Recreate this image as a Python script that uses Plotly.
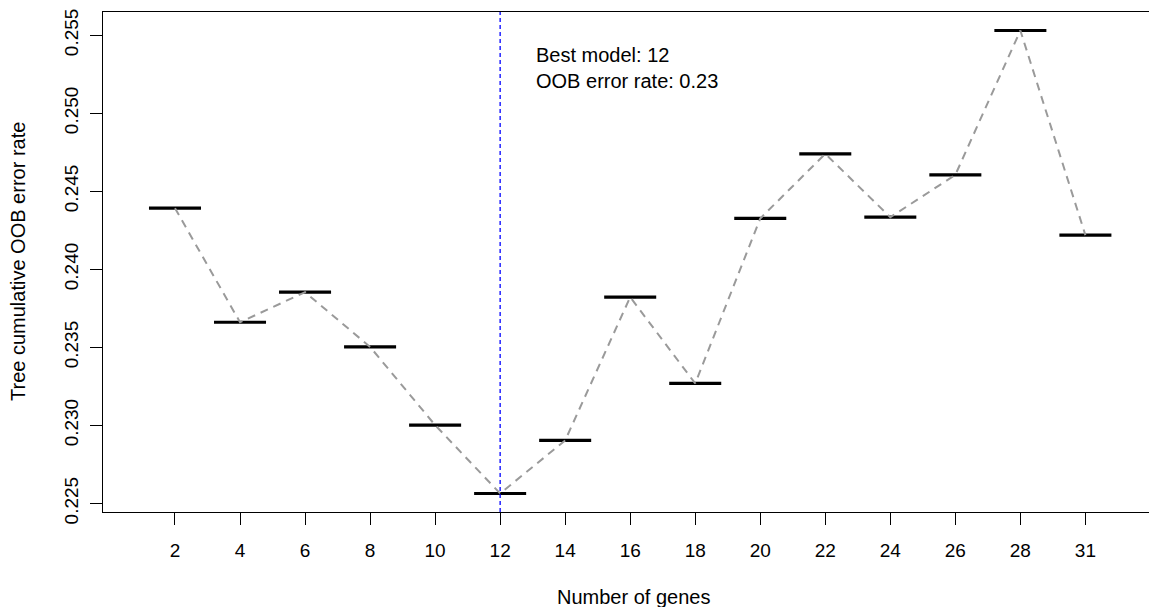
import plotly.graph_objects as go

# ---- data ----
genes = [2, 4, 6, 8, 10, 12, 14, 16, 18, 20, 22, 24, 26, 28, 31]
oob_error = [0.24392, 0.23661, 0.23854, 0.23503, 0.23002, 0.22564, 0.22904,
             0.23822, 0.23269, 0.24326, 0.24740, 0.24334, 0.24605, 0.25530, 0.24219]
y_ticks = [0.225, 0.230, 0.235, 0.240, 0.245, 0.250, 0.255]

FONT = "Liberation Sans, Arial, Helvetica, sans-serif"
FS_TICK = 19
FS_TEXT = 20

idx = list(range(1, len(genes) + 1))
best_i = min(range(len(oob_error)), key=lambda k: oob_error[k])
best_pos = idx[best_i]

# horizontal segments (half-width 0.4 on the index scale)
seg_x, seg_y = [], []
for i, v in zip(idx, oob_error):
    seg_x += [i - 0.4, i + 0.4, None]
    seg_y += [v, v, None]

fig = go.Figure()
fig.add_trace(go.Scatter(x=seg_x, y=seg_y, mode="lines",
                         line=dict(color="black", width=3.2), hoverinfo="skip"))
fig.add_trace(go.Scatter(x=idx, y=oob_error, mode="lines",
                         line=dict(color="#9a9a9a", width=2, dash="8px,6px"),
                         hoverinfo="skip"))

# blue vertical line at best model
fig.add_shape(type="line", xref="x", yref="paper", x0=best_pos, x1=best_pos,
              y0=0, y1=1, line=dict(color="#0000ff", width=1.3, dash="4px,3px"))

ymin, ymax = min(oob_error), max(oob_error)
pad = 0.04 * (ymax - ymin)

fig.add_annotation(x=best_pos + 0.52, y=0.25370, xref="x", yref="y",
                   text=f"Best model: {genes[best_i]}", showarrow=False,
                   xanchor="left", yanchor="middle",
                   font=dict(family=FONT, size=FS_TEXT, color="black"))
fig.add_annotation(x=best_pos + 0.52, y=0.25209, xref="x", yref="y",
                   text=f"OOB error rate: {round(ymin, 2)}", showarrow=False,
                   xanchor="left", yanchor="middle",
                   font=dict(family=FONT, size=FS_TEXT, color="black"))

# axis titles as annotations
fig.add_annotation(x=0, y=0.5, xref="paper", yref="paper", xshift=-85,
                   text="Tree cumulative OOB error rate", textangle=-90,
                   showarrow=False, xanchor="center", yanchor="middle",
                   font=dict(family=FONT, size=FS_TEXT, color="black"))
fig.add_annotation(x=0, y=0, xref="paper", yref="paper", xshift=530, yshift=-85,
                   text="Number of genes", showarrow=False,
                   xanchor="center", yanchor="middle",
                   font=dict(family=FONT, size=FS_TEXT, color="black"))

fig.update_layout(
    width=1149, height=607,
    margin=dict(l=103, r=0, t=12, b=95),
    plot_bgcolor="white", paper_bgcolor="white",
    showlegend=False,
    font=dict(family=FONT, size=FS_TICK, color="black"),
)
fig.update_xaxes(range=[-0.107, 15.978], tickmode="array", tickvals=idx,
                 ticktext=[str(g) for g in genes],
                 showgrid=False, zeroline=False,
                 showline=True, linecolor="black", linewidth=1, mirror=True,
                 ticks="outside", ticklen=12, tickwidth=1, tickcolor="black",
                 ticklabelstandoff=9, tickfont=dict(family=FONT, size=FS_TICK))
fig.update_yaxes(range=[ymin - pad, ymax + pad], tickmode="array", tickvals=y_ticks,
                 ticktext=[f"{t:.3f}" for t in y_ticks],
                 showgrid=False, zeroline=False,
                 showline=True, linecolor="black", linewidth=1, mirror=False,
                 ticks="outside", ticklen=12, tickwidth=1, tickcolor="black",
                 tickangle=-90, ticklabelstandoff=4,
                 tickfont=dict(family=FONT, size=FS_TICK))

fig.write_html("out.html",
               config={"displayModeBar": False},
               post_script="document.body.style.margin='0';document.body.style.overflow='hidden';")
